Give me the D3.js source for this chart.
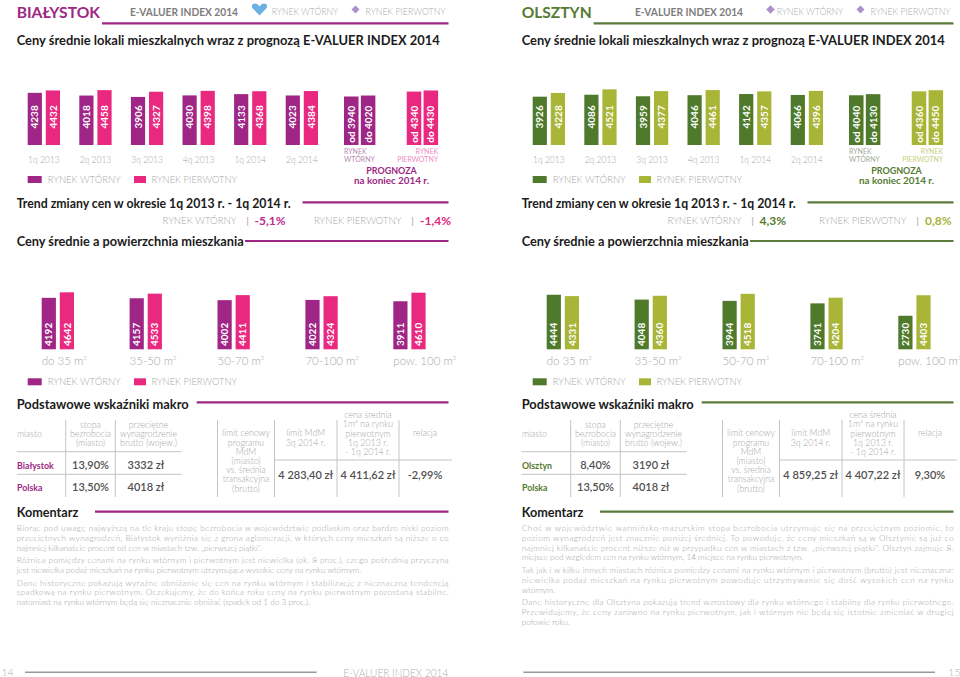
<!DOCTYPE html>
<html><head><meta charset="utf-8">
<script src="https://cdn.jsdelivr.net/npm/d3@7"></script>
<style>body{margin:0;background:#fff}svg{display:block;font-family:Lato,'Open Sans',sans-serif}</style>
</head><body><svg id="c" width="960" height="677"></svg>
<script>
// ---------- DATA ----------
const quarters = ["1q 2013","2q 2013","3q 2013","4q 2013","1q 2014","2q 2014"];
const series = ["wtorny","pierwotny"];
const bialystokWtorny = [4238,4018,3906,4030,4133,4023];
const bialystokPierwotny = [4432,4458,4327,4398,4368,4384];
const bialystokPrognozaWtorny = [3940,4020];
const bialystokPrognozaPierwotny = [4340,4430];
const olsztynWtorny = [3926,4086,3959,4046,4142,4066];
const olsztynPierwotny = [4228,4521,4377,4461,4357,4396];
const olsztynPrognozaWtorny = [4040,4130];
const olsztynPrognozaPierwotny = [4360,4450];
const prognozaLabels = ["od","do"];
const areas = ["do 35 m²","35-50 m²","50-70 m²","70-100 m²","pow. 100 m²"];
const bialystokAreaWtorny = [4192,4157,4002,4022,3911];
const bialystokAreaPierwotny = [4642,4533,4411,4324,4610];
const olsztynAreaWtorny = [4444,4048,3944,3741,2730];
const olsztynAreaPierwotny = [4331,4360,4518,4204,4403];
const bialystokTrend = ["-5,1%","-1,4%"];
const olsztynTrend = ["4,3%","0,8%"];
const bialystokMakro = [["Białystok","13,90%","3332 zł"],["Polska","13,50%","4018 zł"]];
const olsztynMakro = [["Olsztyn","8,40%","3190 zł"],["Polska","13,50%","4018 zł"]];
const bialystokMdM = ["4 283,40 zł","4 411,62 zł","-2,99%"];
const olsztynMdM = ["4 859,25 zł","4 407,22 zł","9,30%"];
const bialystokKomentarz = [
 ["Biorąc pod uwagę najwyższą na tle kraju stopę bezrobocia w województwie podlaskim oraz bardzo niski poziom",
  "przeciętnych wynagrodzeń, Białystok wyróżnia się z grona aglomeracji, w których ceny mieszkań są niższe o co",
  "najmniej kilkanaście procent od cen w miastach tzw. „pierwszej piątki”."],
 ["Różnica pomiędzy cenami na rynku wtórnym i pierwotnym jest niewielka (ok. 8 proc.), czego pośrednią przyczyną",
  "jest niewielka podaż mieszkań na rynku pierwotnym utrzymująca wysokie ceny na rynku wtórnym."],
 ["Dane historyczne pokazują wyraźne obniżanie się cen na rynku wtórnym i stabilizację z nieznaczną tendencją",
  "spadkową na rynku pierwotnym. Oczekujemy, że do końca roku ceny na rynku pierwotnym pozostaną stabilne,",
  "natomiast na rynku wtórnym będą się nieznacznie obniżać (spadek od 1 do 3 proc.)."]
];
const olsztynKomentarz = [
 ["Choć w województwie warmińsko-mazurskim stopa bezrobocia utrzymuje się na przeciętnym poziomie, to",
  "poziom wynagrodzeń jest znacznie poniżej średniej. To powoduje, że ceny mieszkań są w Olsztynie są już co",
  "najmniej kilkanaście procent niższe niż w przypadku cen w miastach z tzw. „pierwszej piątki”. Olsztyn zajmuje 8.",
  "miejsce pod względem cen na rynku wtórnym, 14 miejsce na rynku pierwotnym."],
 ["Tak jak i w kilku innych miastach różnica pomiędzy cenami na rynku wtórnym i pierwotnym (brutto) jest nieznaczna:",
  "niewielka podaż mieszkań na rynku pierwotnym powoduje utrzymywanie się dość wysokich cen na rynku",
  "wtórnym."],
 ["Dane historyczne dla Olsztyna pokazują trend wzrostowy dla rynku wtórnego i stabilny dla rynku pierwotnego.",
  "Przewidujemy, że ceny zarówno na rynku pierwotnym, jak i wtórnym nie będą się istotnie zmieniać w drugiej",
  "połowie roku."]
];

// ---------- HELPERS ----------
const svg = d3.select("#c");
const GRAY = "#9d9d9d";
function txt(g, x, y, s, o = {}) {
  const t = g.append("text").attr("x", x).attr("y", y).text(s)
    .attr("font-size", o.size || 10).attr("font-weight", o.weight || 400)
    .attr("fill", o.color || GRAY).attr("text-anchor", o.anchor || "start");
  if (o.width) t.attr("textLength", o.width).attr("lengthAdjust", o.adjust || "spacingAndGlyphs");
  if (o.dy) t.attr("dy", o.dy);
  return t;
}
function hline(g, x1, x2, y, color, w) {
  g.append("line").attr("x1", x1).attr("x2", x2).attr("y1", y).attr("y2", y)
    .attr("stroke", color).attr("stroke-width", w);
}
function vline(g, x, y1, y2, color, w) {
  g.append("line").attr("x1", x).attr("x2", x).attr("y1", y1).attr("y2", y2)
    .attr("stroke", color).attr("stroke-width", w);
}
function diamond(g, cx, cy, r, color) {
  g.append("path").attr("d", `M${cx},${cy - r}L${cx + r},${cy}L${cx},${cy + r}L${cx - r},${cy}Z`).attr("fill", color);
}

// shared scales
const yTop = d3.scaleLinear().domain([0, 4550]).range([145, 89]);
const yArea = d3.scaleLinear().domain([0, 4642]).range([349.3, 292.3]);
const x0 = d3.scaleBand().domain(quarters).range([27.7, 318]).paddingInner(0.374).paddingOuter(0).align(0);
const x1 = d3.scaleBand().domain(series).range([0, x0.bandwidth()]).paddingInner(0.215);
const xf = d3.scaleBand().domain(series).range([344, 438.1]).paddingInner(0.5).paddingOuter(0);
const xf1 = d3.scaleBand().domain(prognozaLabels).range([0, xf.bandwidth()]).paddingInner(0.137);
const xa = d3.scaleBand().domain(areas).range([41.7, 425.6]).paddingInner(0.6325).paddingOuter(0).align(0);
const xa1 = d3.scaleBand().domain(series).range([0, xa.bandwidth()]).paddingInner(0.215);

function heading(g, s, y, w, lineX, lineY, color) {
  txt(g, 16.7, y, s, { size: 12.5, weight: 700, color: "#1b1b1b", width: w });
  hline(g, lineX, 448.5, lineY, color, 2.2);
}

function drawPage(P) {
  const g = svg.append("g").attr("transform", `translate(${P.off},0)`);
  const col = { wtorny: P.c1, pierwotny: P.c2 };

  // header
  txt(g, 16.7, 17.5, P.title, { size: 14.5, weight: 700, color: P.titleColor, width: P.titleW });
  txt(g, 130, 15.5, "E-VALUER INDEX 2014", { size: 10.5, weight: 700, color: "#7d7d7d", width: 108 });
  hline(g, 16.7 + P.titleW + 2, 448.5, 23.3, P.lineColor, 2.2);
  if (P.heart) {
    g.append("path").attr("d", "M259.5,15.5 L252.3,8 Q250.8,4 254.6,3.6 Q257.6,3.4 259.5,6.6 Q261.4,3.4 264.4,3.6 Q268.2,4 266.7,8 Z").attr("fill", "#6cb0e2");
  } else {
    diamond(g, 265.5, 9.5, 4.3, "#b08fcd");
  }
  txt(g, 271.7, 14.8, "RYNEK WTÓRNY", { size: 9, weight: 300, color: "#ababab", width: 66.5 });
  diamond(g, 355.5, 9.5, 4.0, "#b08fcd");
  txt(g, 365.5, 14.8, "RYNEK PIERWOTNY", { size: 9, weight: 300, color: "#ababab", width: 80 });

  // subtitle
  txt(g, 16.7, 44.5, "Ceny średnie lokali mieszkalnych wraz z prognozą E-VALUER INDEX 2014",
    { size: 12.5, weight: 700, color: "#1b1b1b", width: 423 });

  // quarterly bars
  const qg = g.append("g");
  quarters.forEach((q, i) => {
    const vals = { wtorny: P.qW[i], pierwotny: P.qP[i] };
    series.forEach(s => {
      const bx = x0(q) + x1(s);
      qg.append("rect").attr("x", bx).attr("y", yTop(vals[s])).attr("width", x1.bandwidth())
        .attr("height", yTop(0) - yTop(vals[s])).attr("fill", col[s]);
      txt(qg, 0, 0, vals[s], { size: 10, weight: 700, color: "#fff", dy: "0.36em" })
        .attr("transform", `translate(${bx + x1.bandwidth() / 2},128.5) rotate(-90)`);
    });
    txt(qg, x0(q) + x0.bandwidth() / 2, 162.5, q, { size: 10.5, weight: 300, anchor: "middle", color: "#a8a8a8", width: 31.6 });
  });
  // forecast bars
  const fvals = { wtorny: P.fW, pierwotny: P.fP };
  series.forEach(s => {
    prognozaLabels.forEach((lab, j) => {
      const v = fvals[s][j];
      const bx = xf(s) + xf1(lab);
      qg.append("rect").attr("x", bx).attr("y", yTop(v)).attr("width", xf1.bandwidth())
        .attr("height", yTop(0) - yTop(v)).attr("fill", col[s]);
      txt(qg, 0, 0, `${lab} ${v}`, { size: 10, weight: 700, color: "#fff", dy: "0.36em" })
        .attr("transform", `translate(${bx + xf1.bandwidth() / 2},142.8) rotate(-90)`);
    });
  });
  txt(g, xf("wtorny"), 154, "RYNEK", { size: 7, color: P.fl1 });
  txt(g, xf("wtorny"), 161.5, "WTÓRNY", { size: 7, color: P.fl1 });
  txt(g, xf("pierwotny") + xf.bandwidth(), 154, "RYNEK", { size: 7, color: P.fl2, anchor: "end" });
  txt(g, xf("pierwotny") + xf.bandwidth(), 161.5, "PIERWOTNY", { size: 7, color: P.fl2, anchor: "end" });
  txt(g, 391.5, 174.2, "PROGNOZA", { size: 9.5, weight: 700, color: P.titleColor, anchor: "middle", width: 50.6 });
  txt(g, 391.5, 183.6, "na koniec 2014 r.", { size: 9.5, weight: 700, color: P.titleColor, anchor: "middle", width: 75 });

  // legend helper
  function legend(y) {
    g.append("rect").attr("x", 27.7).attr("y", y).attr("width", 14).attr("height", 7).attr("fill", P.c1);
    txt(g, 47.7, y + 6.8, "RYNEK WTÓRNY", { size: 10, weight: 300, color: "#a8a8a8", width: 73 });
    g.append("rect").attr("x", 134).attr("y", y).attr("width", 12).attr("height", 7).attr("fill", P.c2);
    txt(g, 151.5, y + 6.8, "RYNEK PIERWOTNY", { size: 10, weight: 300, color: "#a8a8a8", width: 85.6 });
  }
  legend(176);

  // trend
  heading(g, "Trend zmiany cen w okresie 1q 2013 r. - 1q 2014 r.", 207.5, 274, 302.5, 202.3, P.lineColor);
  txt(g, 162.5, 224.3, "RYNEK WTÓRNY", { size: 10, weight: 300, color: "#a8a8a8", width: 74 });
  txt(g, 246.5, 224.3, "|", { size: 9, color: "#999" });
  txt(g, 254.5, 224.8, P.trend[0], { size: 12, weight: 700, color: P.tc1 });
  txt(g, 314, 224.3, "RYNEK PIERWOTNY", { size: 10, weight: 300, color: "#a8a8a8", width: 87.5 });
  txt(g, 411.5, 224.3, "|", { size: 9, color: "#999" });
  txt(g, 420, 224.8, P.trend[1], { size: 12, weight: 700, color: P.tc2 });

  heading(g, "Ceny średnie a powierzchnia mieszkania", 246, 227, 245, 241, P.lineColor);

  // area bars
  const ag = g.append("g");
  areas.forEach((a, i) => {
    const vals = { wtorny: P.aW[i], pierwotny: P.aP[i] };
    series.forEach(s => {
      const bx = xa(a) + xa1(s);
      ag.append("rect").attr("x", bx).attr("y", yArea(vals[s])).attr("width", xa1.bandwidth())
        .attr("height", yArea(0) - yArea(vals[s])).attr("fill", col[s]);
      txt(ag, 0, 0, vals[s], { size: 10, weight: 700, color: "#fff", dy: "0.36em" })
        .attr("transform", `translate(${bx + xa1.bandwidth() / 2},346) rotate(-90)`);
    });
    const t = txt(ag, xa(a), 364.8, "", { size: 11.5, weight: 300, color: "#a8a8a8" });
    t.append("tspan").text(a.replace("²", ""));
    t.append("tspan").text("2").attr("font-size", 6).attr("dy", -4.5);
  });
  legend(378.3);

  // macro table
  heading(g, "Podstawowe wskaźniki makro", 408.5, 172, 196.7, 402.3, P.lineColor);
  const tc = "#c4c4c4";
  vline(g, 65.7, 420, 497, tc, 1); vline(g, 115.3, 420, 497, tc, 1);
  hline(g, 16.7, 181.7, 451.7, tc, 1); hline(g, 16.7, 181.7, 474.3, tc, 1);
  const hs = { size: 8.8, weight: 300, color: "#a6a6a6" };
  txt(g, 17, 436.5, "miasto", hs);
  ["stopa", "bezrobocia", "(miasto)"].forEach((s, k) => txt(g, 90.5, 427.5 + k * 9.2, s, { ...hs, anchor: "middle" }));
  ["przeciętne", "wynagrodzenie", "brutto (wojew.)"].forEach((s, k) => txt(g, 148.5, 427.5 + k * 9.2, s, { ...hs, anchor: "middle" }));
  P.makro.forEach((r, k) => {
    const y = 469 + k * 21.7;
    txt(g, 17, y, r[0], { size: 8.8, weight: 700, color: P.titleColor });
    txt(g, 90.5, y, r[1], { size: 11, weight: 600, color: "#505050", anchor: "middle" });
    txt(g, 146, y, r[2], { size: 11, weight: 600, color: "#505050", anchor: "middle" });
  });
  [217.5, 274.5, 337, 399].forEach(x => vline(g, x, 420, 497, tc, 1));
  hline(g, 274.5, 451.7, 460, tc, 1);
  ["limit cenowy", "programu", "MdM", "(miasto)", "vs. średnia", "transakcyjna", "(brutto)"]
    .forEach((s, k) => txt(g, 246, 436.3 + k * 9.23, s, { ...hs, anchor: "middle" }));
  ["limit MdM", "3q 2014 r."].forEach((s, k) => txt(g, 305.7, 436.3 + k * 9.3, s, { ...hs, anchor: "middle" }));
  ["cena średnia", "1m² na rynku", "pierwotnym", "1q 2013 r.", "- 1q 2014 r."]
    .forEach((s, k) => txt(g, 368, 418 + k * 9.3, s, { ...hs, anchor: "middle" }));
  txt(g, 425, 436.3, "relacja", { ...hs, anchor: "middle" });
  [305.7, 368, 425].forEach((x, k) => txt(g, x, 479, P.mdm[k], { size: 11, weight: 600, color: "#505050", anchor: "middle" }));

  // comment
  heading(g, "Komentarz", 517, 61.6, 95, 511.7, P.lineColor);
  let y = 531;
  P.kom.forEach(par => {
    par.forEach((line, k) => {
      const last = k === par.length - 1;
      txt(g, 16.7, y, line, { size: 8.2, weight: 300, color: "#a2a2a2", width: last ? null : 431.8, adjust: "spacing" });
      y += 9.8;
    });
    y += 2.8;
  });
}

drawPage({
  off: 0, title: "BIAŁYSTOK", titleW: 83.3, titleColor: "#9d2783", lineColor: "#9d2783", heart: true,
  c1: "#9f2687", c2: "#e9297f", fl1: "#b98ab4", fl2: "#f08cbf", tc1: "#c02c8c", tc2: "#e2287f",
  qW: bialystokWtorny, qP: bialystokPierwotny, fW: bialystokPrognozaWtorny, fP: bialystokPrognozaPierwotny,
  aW: bialystokAreaWtorny, aP: bialystokAreaPierwotny, trend: bialystokTrend,
  makro: bialystokMakro, mdm: bialystokMdM, kom: bialystokKomentarz
});
drawPage({
  off: 505, title: "OLSZTYN", titleW: 70, titleColor: "#557a31", lineColor: "#5b7a3b", heart: false,
  c1: "#4f7a2c", c2: "#a9b536", fl1: "#a4aa9c", fl2: "#c9cf7e", tc1: "#557a31", tc2: "#a5b43a",
  qW: olsztynWtorny, qP: olsztynPierwotny, fW: olsztynPrognozaWtorny, fP: olsztynPrognozaPierwotny,
  aW: olsztynAreaWtorny, aP: olsztynAreaPierwotny, trend: olsztynTrend,
  makro: olsztynMakro, mdm: olsztynMdM, kom: olsztynKomentarz
});

// footer
const f = svg.append("g");
txt(f, 1.5, 676, "14", { size: 10.5, weight: 300, color: "#b0b0b0" });
hline(f, 25, 316.7, 672.3, "#9a9a9a", 1.6);
txt(f, 343.3, 676.5, "E-VALUER INDEX 2014", { size: 11, weight: 300, color: "#b0b0b0", width: 105 });
hline(f, 523.3, 935, 672.3, "#9a9a9a", 1.6);
txt(f, 948.3, 676, "15", { size: 10.5, weight: 300, color: "#b0b0b0" });
</script></body></html>
